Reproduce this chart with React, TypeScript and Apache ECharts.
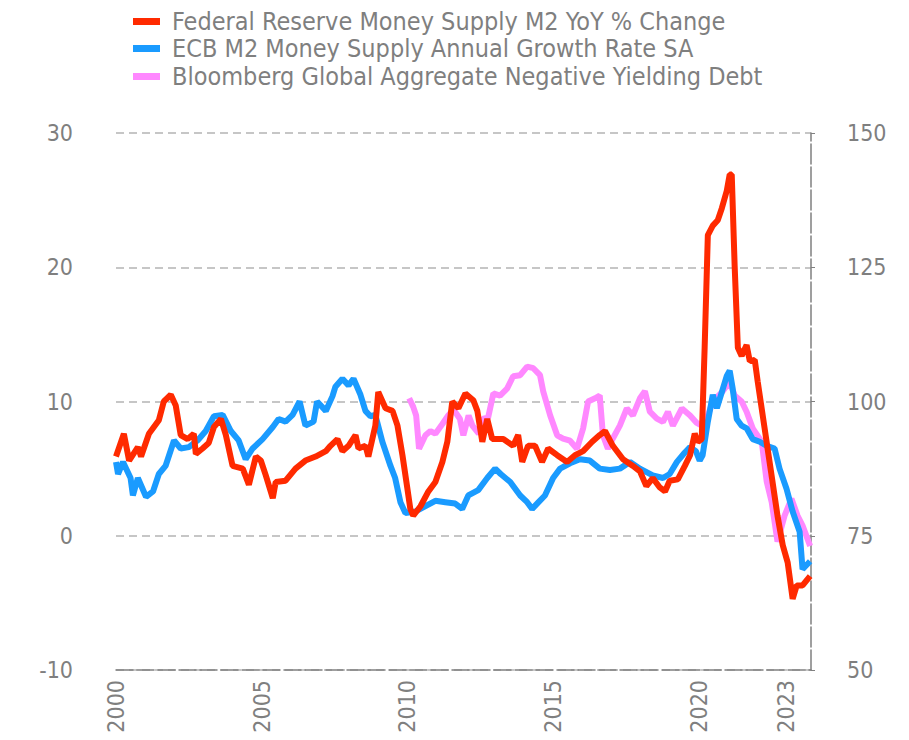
import { useEffect, useRef } from "react";
import * as echarts from "echarts";

const seriesNames = [
  "Federal Reserve Money Supply M2 YoY % Change",
  "ECB M2 Money Supply Annual Growth Rate SA",
  "Bloomberg Global Aggregate Negative Yielding Debt",
];
const seriesColors = ["#FF2A00", "#1A9BFF", "#FF88FF"];

const fedDates = [
  2000.0, 2000.27, 2000.45, 2000.75, 2000.86, 2001.13, 2001.47, 2001.64, 2001.88, 2002.05,
  2002.22, 2002.46, 2002.67, 2002.74, 2002.97, 2003.18, 2003.36, 2003.6, 2003.77, 2004.0,
  2004.35, 2004.56, 2004.8, 2004.97, 2005.14, 2005.38, 2005.48, 2005.82, 2006.16, 2006.5,
  2006.85, 2007.2, 2007.36, 2007.6, 2007.77, 2007.98, 2008.22, 2008.32, 2008.56, 2008.66,
  2008.9, 2009.0, 2009.25, 2009.49, 2009.66, 2009.83, 2010.0, 2010.1, 2010.2, 2010.45,
  2010.72, 2010.96, 2011.2, 2011.37, 2011.54, 2011.75, 2011.99, 2012.26, 2012.4, 2012.57,
  2012.74, 2012.91, 2013.29, 2013.63, 2013.8, 2013.94, 2014.14, 2014.38, 2014.62, 2014.83,
  2015.14, 2015.48, 2015.75, 2016.03, 2016.34, 2016.6, 2016.78, 2017.05, 2017.4, 2017.74,
  2017.98, 2018.2, 2018.42, 2018.66, 2018.84, 2019.0, 2019.28, 2019.52, 2019.7, 2019.86,
  2019.97, 2020.1, 2020.2, 2020.31, 2020.48, 2020.65, 2020.79, 2020.96, 2021.06, 2021.13,
  2021.23, 2021.34, 2021.47, 2021.64, 2021.75, 2021.92, 2022.02, 2022.19, 2022.36, 2022.53,
  2022.7, 2022.88, 2023.05, 2023.22, 2023.36, 2023.56, 2023.82,
];
const fedValues = [
  5.9, 7.6, 5.6, 6.6, 5.9, 7.6, 8.6, 10.0, 10.5, 9.7,
  7.5, 7.2, 7.6, 6.1, 6.5, 6.9, 8.1, 8.7, 7.5, 5.2,
  5.0, 3.8, 5.9, 5.6, 4.5, 2.8, 4.0, 4.1, 5.0, 5.6,
  5.9, 6.3, 6.7, 7.2, 6.3, 6.7, 7.5, 6.5, 6.7, 5.9,
  8.2, 10.7, 9.5, 9.3, 8.2, 6.0, 3.5, 2.0, 1.5, 2.2,
  3.3, 4.0, 5.5, 7.0, 10.0, 9.5, 10.6, 10.1, 9.3, 7.0,
  8.7, 7.2, 7.2, 6.7, 7.5, 5.5, 6.7, 6.7, 5.5, 6.5,
  6.0, 5.5, 6.0, 6.3, 7.0, 7.5, 7.8, 6.7, 5.7, 5.2,
  4.8, 3.7, 4.3, 3.6, 3.3, 4.1, 4.2, 5.2, 6.0, 7.6,
  7.0, 7.2, 14.0, 22.4, 23.1, 23.5, 24.4, 25.7, 26.9, 26.9,
  20.1, 14.0, 13.4, 14.2, 13.0, 13.1, 11.5, 9.0, 6.5, 4.0,
  1.5, -0.7, -2.0, -4.7, -3.7, -3.7, -3.0,
];

const ecbDates = [
  2000.0, 2000.07, 2000.24, 2000.5, 2000.58, 2000.75, 2001.03, 2001.27, 2001.47, 2001.7,
  2001.99, 2002.22, 2002.5, 2002.8, 2003.08, 2003.36, 2003.66, 2003.94, 2004.21, 2004.45,
  2004.69, 2005.03, 2005.38, 2005.58, 2005.82, 2006.06, 2006.3, 2006.5, 2006.78, 2006.9,
  2007.2, 2007.43, 2007.53, 2007.77, 2007.98, 2008.15, 2008.39, 2008.56, 2008.73, 2008.9,
  2009.14, 2009.42, 2009.58, 2009.76, 2009.93, 2010.27, 2010.62, 2010.96, 2011.3, 2011.64,
  2011.88, 2012.09, 2012.43, 2012.74, 2013.01, 2013.2, 2013.53, 2013.87, 2014.11, 2014.28,
  2014.5, 2014.72, 2015.0, 2015.24, 2015.58, 2015.92, 2016.26, 2016.6, 2016.95, 2017.29,
  2017.64, 2017.98, 2018.42, 2018.77, 2019.0, 2019.25, 2019.52, 2019.7, 2019.9, 2020.03,
  2020.13, 2020.31, 2020.48, 2020.62, 2020.79, 2020.96, 2021.06, 2021.16, 2021.3, 2021.47,
  2021.64, 2021.85, 2022.09, 2022.33, 2022.6, 2022.77, 2023.01, 2023.22, 2023.46, 2023.56,
  2023.82,
];
const ecbValues = [
  5.5, 4.6, 5.5, 4.3, 3.0, 4.3, 2.9, 3.3, 4.6, 5.2,
  7.1, 6.5, 6.6, 7.1, 7.8, 8.9, 9.0, 7.8, 7.1, 5.7,
  6.5, 7.2, 8.1, 8.7, 8.5, 9.0, 10.0, 8.2, 8.5, 10.0,
  9.3, 10.4, 11.1, 11.7, 11.2, 11.7, 10.5, 9.3, 8.9, 9.0,
  7.0, 5.2, 4.3, 2.5, 1.7, 1.8, 2.2, 2.6, 2.5, 2.4,
  2.0, 3.0, 3.4, 4.3, 5.0, 4.6, 4.0, 3.0, 2.5, 2.0,
  2.5, 3.0, 4.3, 5.0, 5.4, 5.7, 5.6, 5.0, 4.9, 5.0,
  5.5, 5.0, 4.5, 4.3, 4.6, 5.5, 6.2, 6.6, 6.3, 5.6,
  6.0, 8.5, 10.5, 9.5, 10.7, 11.9, 12.3, 11.0, 8.7, 8.2,
  8.0, 7.2, 7.0, 6.7, 6.5, 5.0, 3.5, 1.8, 0.3, -2.5,
  -1.9,
];

const negDates = [
  2010.06, 2010.2, 2010.3, 2010.4, 2010.62, 2010.79, 2010.96, 2011.2, 2011.4, 2011.58,
  2011.8, 2011.92, 2012.1, 2012.23, 2012.45, 2012.6, 2012.77, 2012.95, 2013.18, 2013.42,
  2013.63, 2013.87, 2014.11, 2014.32, 2014.55, 2014.66, 2014.9, 2015.14, 2015.34, 2015.58,
  2015.82, 2016.03, 2016.2, 2016.44, 2016.6, 2016.71, 2016.88, 2017.05, 2017.29, 2017.53,
  2017.74, 2017.98, 2018.15, 2018.32, 2018.56, 2018.77, 2018.94, 2019.11, 2019.42, 2019.7,
  2019.93, 2020.1, 2020.31, 2020.48, 2020.82, 2021.06, 2021.23, 2021.47, 2021.64, 2021.85,
  2022.16, 2022.33, 2022.5, 2022.7, 2022.94, 2023.18, 2023.39, 2023.56, 2023.82,
];
const negValues = [
  100.6, 99.0, 97.4, 91.2, 93.7, 94.5, 94.0, 95.8, 97.4, 98.5,
  96.8, 93.7, 97.4, 95.5, 94.0, 96.8, 97.0, 101.5, 101.1, 102.4,
  104.7, 104.9, 106.5, 106.2, 104.9, 101.9, 97.4, 93.7, 93.1, 92.7,
  91.2, 95.0, 100.0, 100.6, 101.1, 93.7, 91.2, 93.1, 95.5, 98.7,
  97.4, 100.6, 101.9, 98.1, 96.8, 96.2, 98.1, 95.5, 98.7, 97.4,
  96.0, 95.5, 97.4, 100.0, 101.9, 103.7, 101.1, 100.0, 98.1, 95.0,
  92.5, 85.1, 81.3, 73.9, 78.7, 81.9, 78.7, 76.9, 73.1,
];

const xTickValues = [2000, 2005, 2010, 2015, 2020, 2023];
const xRange = [2000, 2023.85];
const leftRange = [-10, 30, 10];
const rightRange = [50, 150, 25];

const FONT = "'Liberation Sans Narrow', 'DejaVu Sans Condensed', 'Arial Narrow', sans-serif";
const TEXT_COLOR = "#7f7f7f";

function pairs(d: number[], v: number[]) {
  return d.map((x, i) => [x, v[i]]);
}

export default function App() {
  const ref = useRef<HTMLDivElement>(null);
  useEffect(() => {
    const chart = echarts.init(ref.current!, null, { renderer: "svg" });
    const legendTops = [9, 36, 64];
    chart.setOption({
      animation: false,
      backgroundColor: "#fff",
      textStyle: { fontFamily: FONT },
      legend: seriesNames.map((n, i) => ({
        data: [n],
        left: 133,
        top: legendTops[i],
        padding: 0,
        icon: "rect",
        itemWidth: 27,
        itemHeight: 7,
        selectedMode: false,
        textStyle: {
          fontFamily: FONT,
          fontSize: 25,
          lineHeight: 25,
          color: TEXT_COLOR,
          padding: [0, 0, 0, 7],
        },
      })),
      grid: { left: 116, right: 98, top: 133, bottom: 70, outerBoundsMode: "none" },
      xAxis: {
        type: "value",
        min: xRange[0],
        max: xRange[1],
        splitLine: { show: false },
        axisTick: { show: false },
        axisLine: {
          show: true,
          onZero: false,
          lineStyle: { color: "#808080", width: 1.5, type: [17, 4] },
        },
        axisLabel: {
          customValues: xTickValues,
          rotate: 90,
          margin: 10,
          fontSize: 23,
          fontFamily: FONT,
          color: TEXT_COLOR,
          formatter: (v: number) => String(v),
        },
      },
      yAxis: [
        {
          type: "value",
          min: leftRange[0],
          max: leftRange[1],
          interval: leftRange[2],
          axisLine: { show: false },
          axisTick: { show: false },
          splitLine: { show: true, lineStyle: { color: "#b4b4b4", width: 1.5, type: [8, 5] } },
          axisLabel: { margin: 43, fontSize: 23, fontFamily: FONT, color: TEXT_COLOR },
        },
        {
          type: "value",
          min: rightRange[0],
          max: rightRange[1],
          interval: rightRange[2],
          position: "right",
          axisLine: { show: true, lineStyle: { color: "#808080", width: 1.5, type: [20, 3] } },
          axisTick: { show: true, length: 4, lineStyle: { color: "#808080" } },
          splitLine: { show: false },
          axisLabel: { margin: 36, fontSize: 23, fontFamily: FONT, color: TEXT_COLOR },
        },
      ],
      series: [
        {
          name: seriesNames[0],
          type: "line",
          yAxisIndex: 0,
          z: 4,
          showSymbol: false,
          color: seriesColors[0],
          lineStyle: { width: 6, color: seriesColors[0] },
          data: pairs(fedDates, fedValues),
        },
        {
          name: seriesNames[1],
          type: "line",
          yAxisIndex: 0,
          z: 3,
          showSymbol: false,
          color: seriesColors[1],
          lineStyle: { width: 6, color: seriesColors[1] },
          data: pairs(ecbDates, ecbValues),
        },
        {
          name: seriesNames[2],
          type: "line",
          yAxisIndex: 1,
          z: 2,
          showSymbol: false,
          color: seriesColors[2],
          lineStyle: { width: 6, color: seriesColors[2] },
          data: pairs(negDates, negValues),
        },
      ],
    });
    return () => chart.dispose();
  }, []);
  return (
    <div
      ref={ref}
      style={{ position: "fixed", left: 0, top: 0, width: 909, height: 740, background: "#fff" }}
    />
  );
}
